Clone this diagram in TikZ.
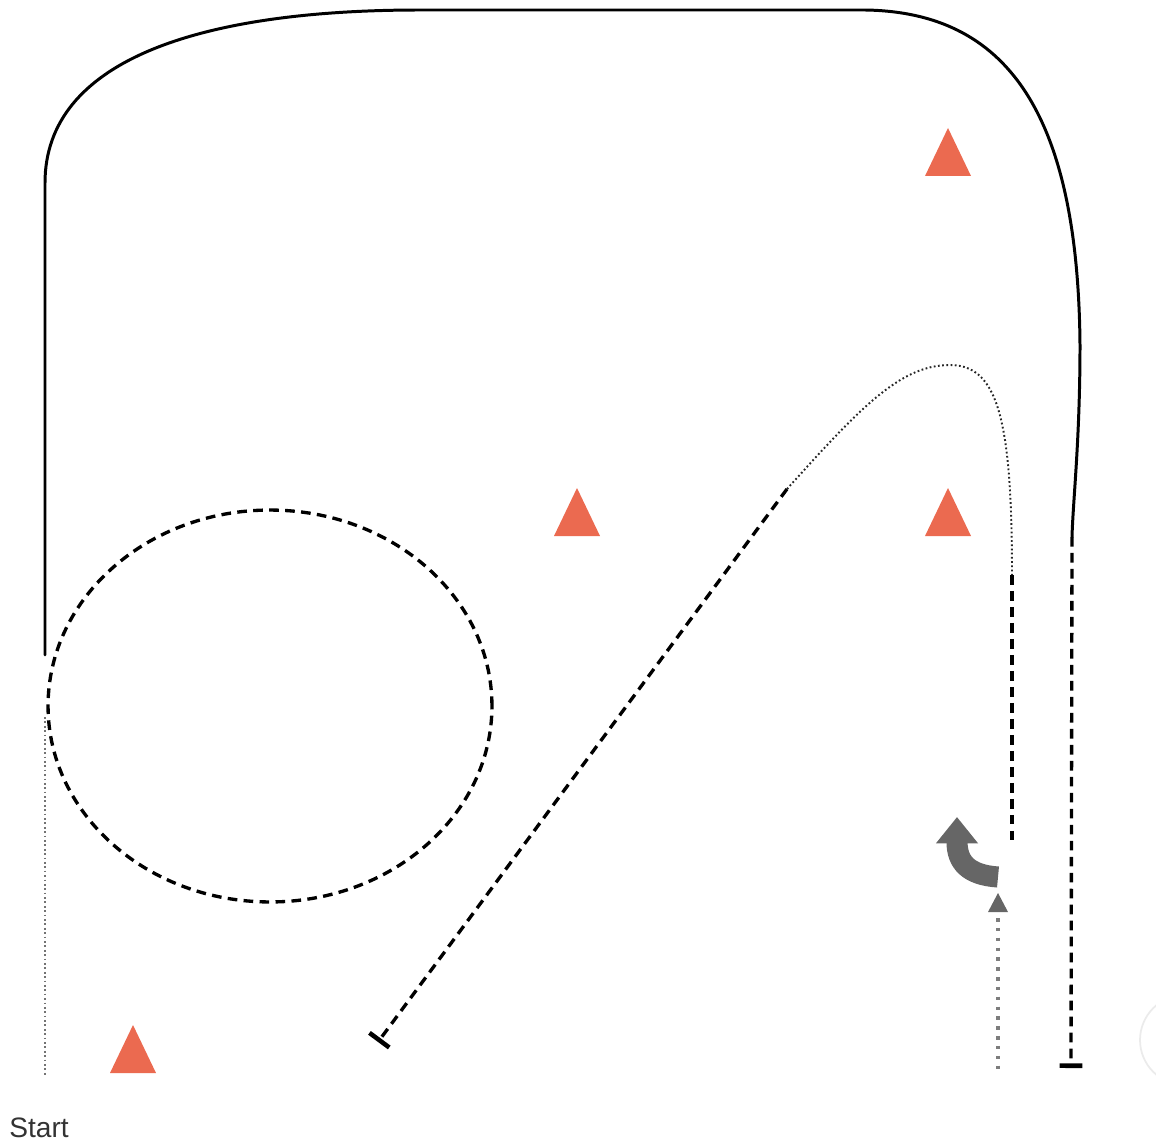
\documentclass[tikz,border=0pt]{standalone}
\usepackage{fontspec}
\setmainfont{Liberation Sans}
\usetikzlibrary{arrows.meta}
\definecolor{conered}{HTML}{EB6A50}
\definecolor{arrowgray}{HTML}{666666}
\begin{document}
\begin{tikzpicture}[x=0.02cm,y=-0.02cm,
  solidline/.style={line width=1.7pt, black, line cap=round},
  dashline/.style={line width=1.9pt, black, dash pattern=on 5.5pt off 3.6pt},
  finedot/.style={line width=1.1pt, black!85, dash pattern=on 1pt off 1.4pt},
  greydot/.style={line width=2pt, arrowgray!85, dash pattern=on 2pt off 3.6pt},
  cone/.pic={\fill[conered] (-23,24) -- (23,24) -- (0,-24) -- cycle;},
  bigarrow/.style={line width=12pt, arrowgray, -{Triangle[length=15pt,width=23pt]}}
]
\useasboundingbox (0,0) rectangle (1156,1142);

% named points
\coordinate (L1) at (45,655);
\coordinate (L2) at (45,183);
\coordinate (T1) at (420,10);
\coordinate (T2) at (865,10);
\coordinate (R1) at (1080,345);
\coordinate (R2) at (1072,537);
\coordinate (R3) at (1071,1068);
\coordinate (D1) at (378,1042);
\coordinate (D2) at (787,489);
\coordinate (P)  at (950,365);
\coordinate (V1) at (1012,575);
\coordinate (V2) at (1012,840);
\coordinate (S1) at (45,717);
\coordinate (S2) at (45,1075);
\coordinate (G1) at (998,918);
\coordinate (G2) at (998,1072);
\coordinate (A1) at (998,877);
\coordinate (A2) at (957,817);

% solid outer track
\draw[solidline] (L1) -- (L2) .. controls (45,60) and (200,10) .. (T1) -- (T2)
  .. controls (1005,12) and (1078,110) .. (R1) .. controls (1080,440) and (1073,500) .. (R2);

% dashed circle
\draw[dashline] (270,706) ellipse [x radius=4.44cm, y radius=3.92cm];

% diagonal dashed with end bar
\draw[dashline, -{Bar[width=14pt,line width=2.6pt]}] (D2) -- (D1);

% fine dotted curve
\draw[finedot] (D2) .. controls (860,408) and (900,365) .. (P)
  .. controls (998,365) and (1012,420) .. (V1);

% dashed verticals
\draw[dashline] (V1) -- (V2);
\draw[dashline, -{Bar[width=13pt,line width=2.6pt]}] (R2) -- (R3);

% left fine dotted
\draw[line width=1pt, black!55, dash pattern=on 1pt off 1.5pt] (S1) -- (S2);

% grey dotted and small triangle
\draw[greydot] (G1) -- (G2);
\fill[arrowgray] (998,893) -- (1008,912) -- (988,912) -- cycle;

% curved grey arrow
\draw[bigarrow] (A1) .. controls (968,875) and (957,862) .. (A2);

% cones
\pic at (948,152) {cone};
\pic at (577,512) {cone};
\pic at (948,512) {cone};
\pic at (133,1049) {cone};

% faint circle at the edge
\draw[black!8, line width=1pt] (1185,1040) circle [radius=0.9cm];

% label
\node[anchor=base west, font=\fontsize{16}{18}\selectfont, text=black!80, inner sep=0pt] (start) at (9,1137) {Start};
\end{tikzpicture}
\end{document}
